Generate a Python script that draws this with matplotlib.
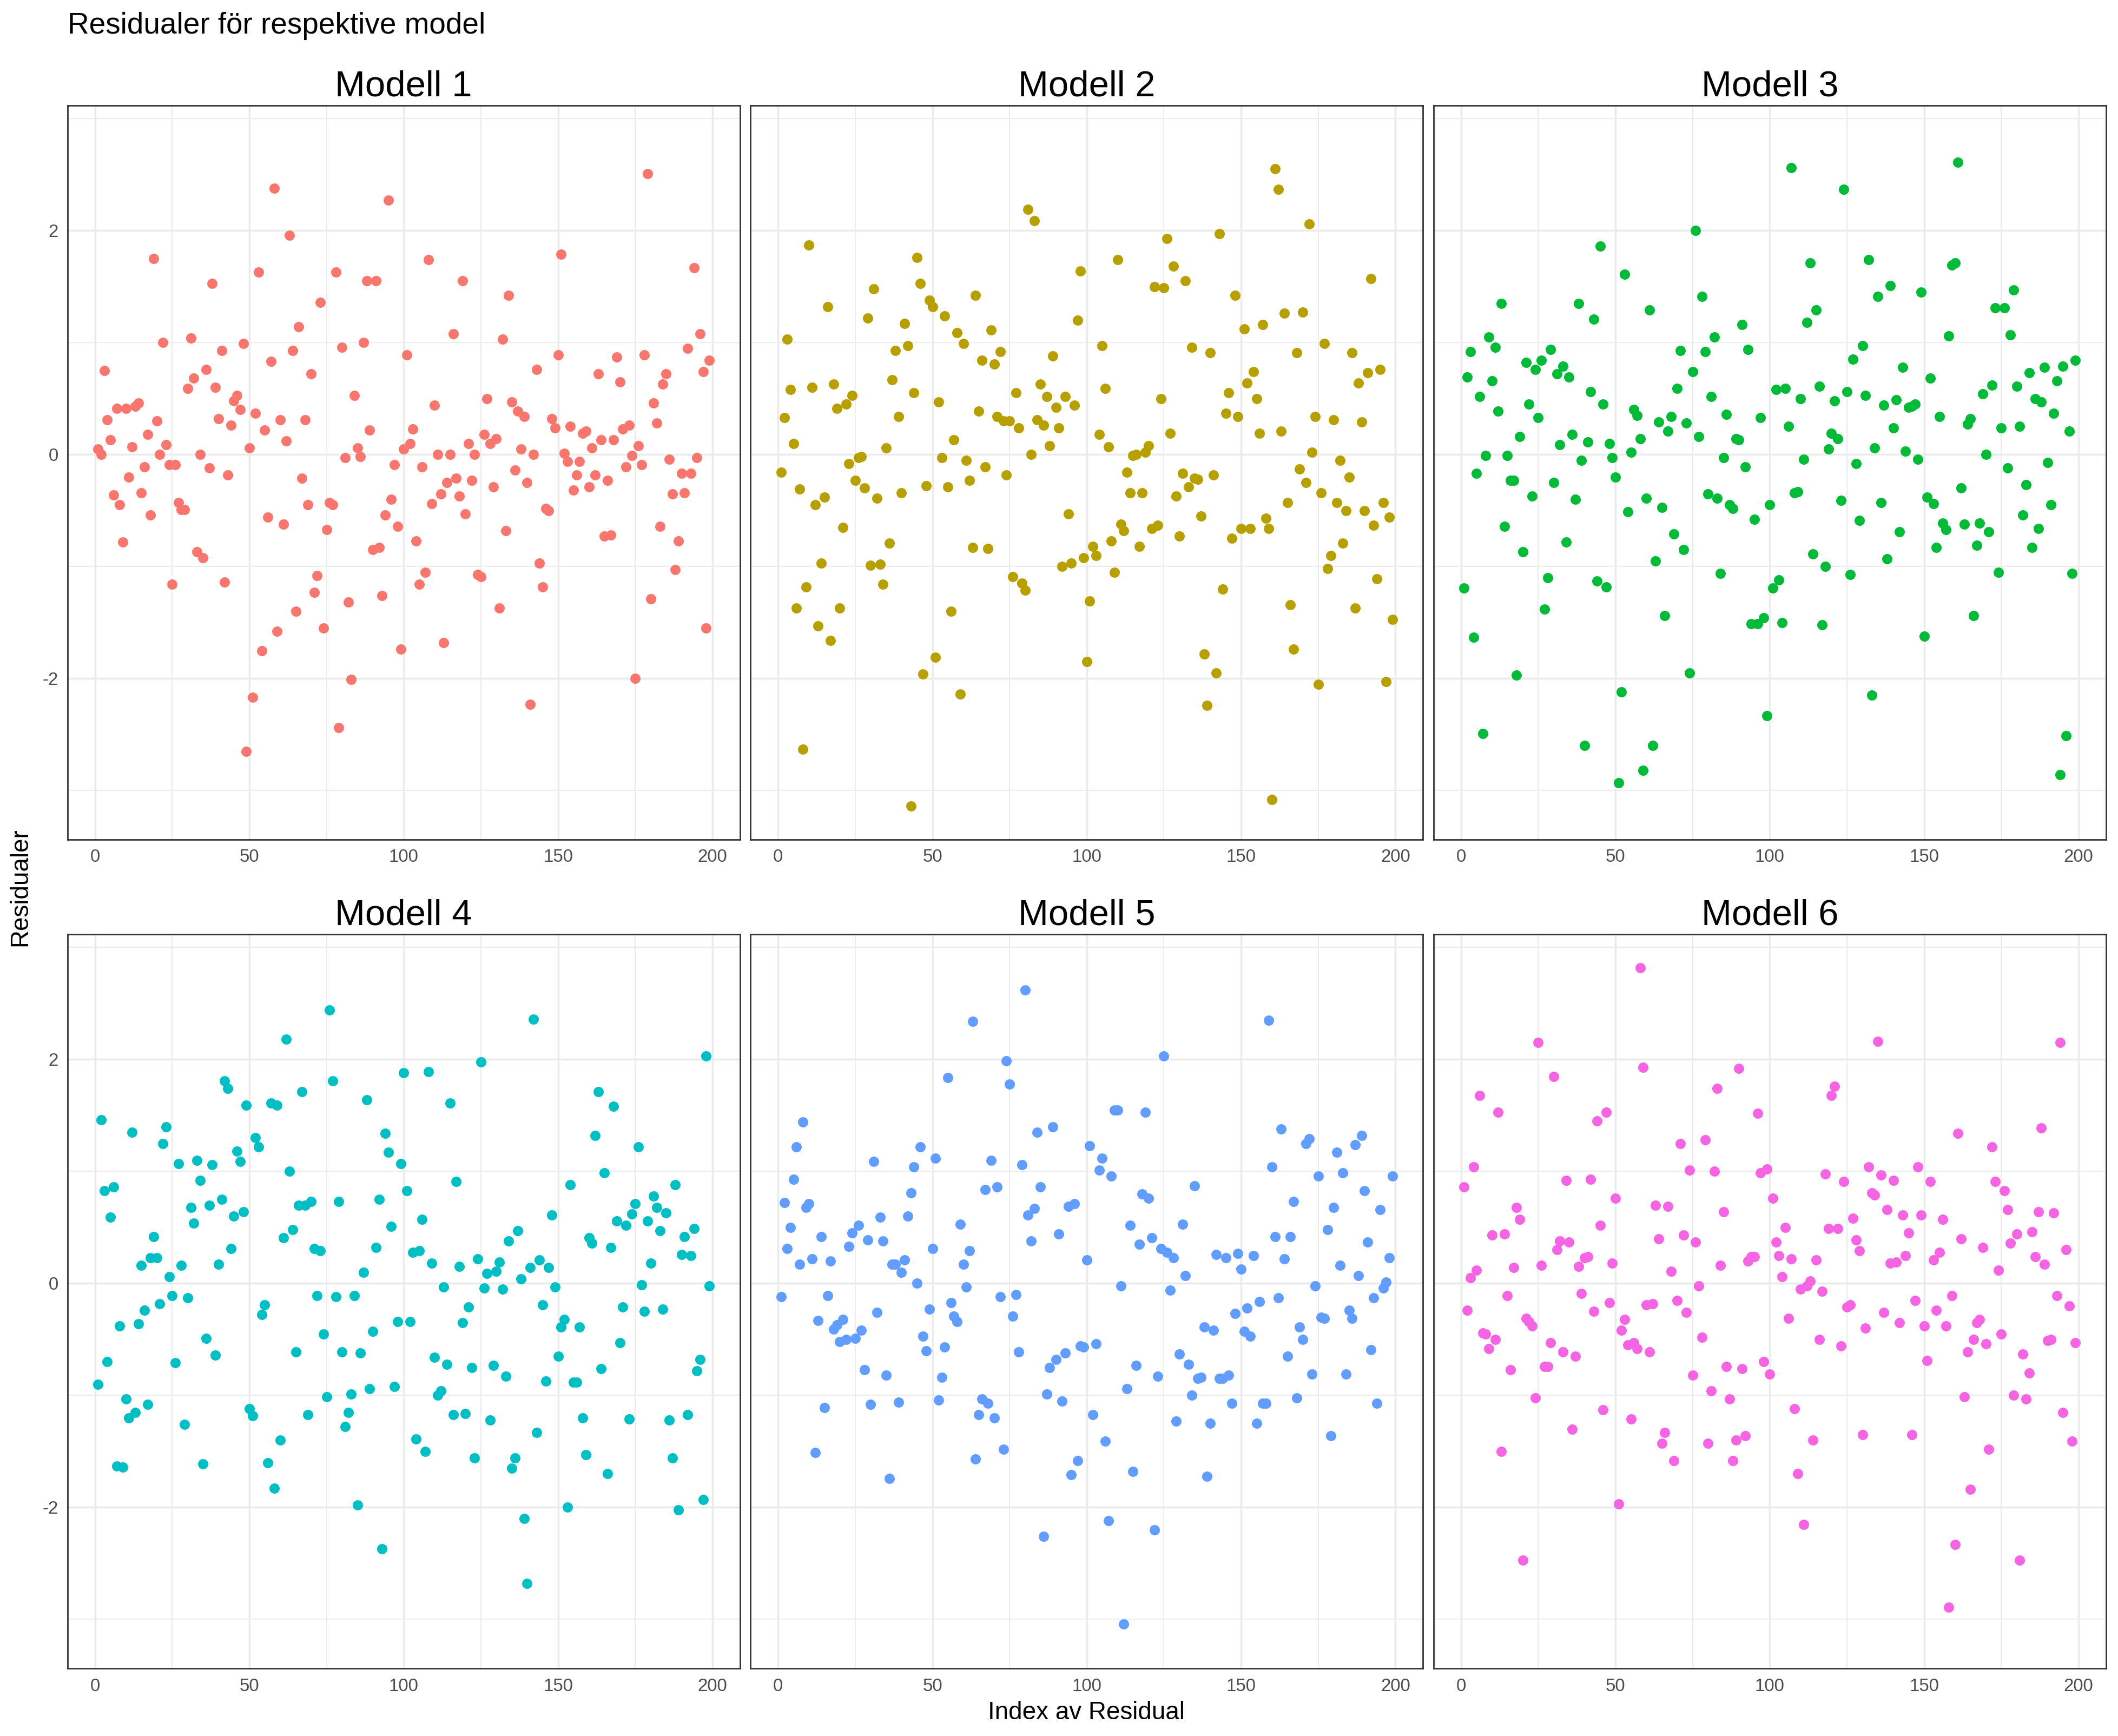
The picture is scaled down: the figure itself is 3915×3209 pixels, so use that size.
import matplotlib
matplotlib.use("Agg")
import matplotlib.pyplot as plt
import numpy as np

plt.rcParams['font.family'] = ['Liberation Sans', 'DejaVu Sans']
plt.rcParams['axes.unicode_minus'] = False

# Residualer per modell (index 1..199, lästa från bilden)
res1 = [0.05, 0.0, 0.75, 0.31, 0.13, -0.36, 0.41, -0.45, -0.78, 0.41,
        -0.2, 0.07, 0.43, 0.46, -0.34, -0.11, 0.18, -0.54, 1.75, 0.30,
        0.0, 1.0, 0.09, -0.09, -1.16, -0.09, -0.43, -0.49, -0.49, 0.59,
        1.04, 0.68, -0.87, 0.0, -0.92, 0.76, -0.12, 1.53, 0.60, 0.32,
        0.93, -1.14, -0.18, 0.26, 0.48, 0.53, 0.40, 0.99, -2.65, 0.06,
        -2.17, 0.37, 1.63, -1.75, 0.22, -0.56, 0.83, 2.38, -1.58, 0.31,
        -0.62, 0.12, 1.96, 0.93, -1.40, 1.14, -0.21, 0.31, -0.45, 0.72,
        -1.23, -1.08, 1.36, -1.55, -0.67, -0.43, -0.45, 1.63, -2.44, 0.96,
        -0.03, -1.32, -2.01, 0.53, 0.06, -0.02, 1.0, 1.55, 0.22, -0.85,
        1.55, -0.83, -1.26, -0.54, 2.27, -0.40, -0.09, -0.64, -1.74, 0.05,
        0.89, 0.10, 0.23, -0.77, -1.16, -0.11, -1.05, 1.74, -0.44, 0.44,
        0.0, -0.35, -1.68, -0.25, 0.0, 1.08, -0.21, -0.37, 1.55, -0.53,
        0.10, -0.23, 0.0, -1.07, -1.09, 0.18, 0.50, 0.10, -0.29, 0.14,
        -1.37, 1.03, -0.68, 1.42, 0.47, -0.14, 0.39, 0.05, 0.34, -0.25,
        -2.23, 0.0, 0.76, -0.97, -1.18, -0.48, -0.50, 0.32, 0.24, 0.89,
        1.79, 0.01, -0.06, 0.25, -0.32, -0.18, -0.06, 0.19, 0.21, -0.29,
        0.06, -0.18, 0.72, 0.13, -0.73, -0.23, -0.72, 0.13, 0.87, 0.65,
        0.23, -0.11, 0.26, -0.01, -2.0, 0.08, -0.09, 0.89, 2.51, -1.29,
        0.46, 0.28, -0.64, 0.63, 0.72, -0.04, -0.35, -1.03, -0.77, -0.17,
        -0.34, 0.95, -0.17, 1.67, -0.03, 1.08, 0.74, -1.55, 0.84]

res2 = [-0.16, 0.33, 1.03, 0.58, 0.10, -1.37, -0.31, -2.63, -1.18, 1.87,
        0.60, -0.45, -1.53, -0.97, -0.38, 1.32, -1.66, 0.63, 0.41, -1.37,
        -0.65, 0.45, -0.08, 0.53, -0.23, -0.03, -0.02, -0.30, 1.22, -0.99,
        1.48, -0.39, -0.98, -1.16, 0.06, -0.79, 0.67, 0.93, 0.34, -0.34,
        1.17, 0.97, -3.14, 0.55, 1.76, 1.53, -1.96, -0.28, 1.38, 1.32,
        -1.81, 0.47, -0.03, 1.24, -0.29, -1.40, 0.13, 1.09, -2.14, 0.99,
        -0.05, -0.23, -0.83, 1.42, 0.39, 0.84, -0.11, -0.84, 1.11, 0.81,
        0.34, 0.92, 0.30, -0.18, 0.30, -1.09, 0.55, 0.24, -1.15, -1.21,
        2.19, 0.0, 2.09, 0.31, 0.63, 0.26, 0.52, 0.08, 0.88, 0.42,
        0.24, -1.0, 0.52, -0.53, -0.97, 0.44, 1.20, 1.64, -0.92, -1.85,
        -1.31, -0.82, -0.90, 0.18, 0.97, 0.59, 0.07, -0.77, -1.05, 1.74,
        -0.62, -0.68, -0.16, -0.34, -0.01, 0.0, -0.82, -0.34, 0.02, 0.08,
        -0.66, 1.50, -0.63, 0.50, 1.49, 1.93, 0.19, 1.68, -0.37, -0.73,
        -0.17, 1.55, -0.29, 0.96, -0.21, -0.22, -0.55, -1.78, -2.24, 0.91,
        -0.18, -1.95, 1.97, -1.20, 0.37, 0.55, -0.75, 1.42, 0.34, -0.66,
        1.12, 0.64, -0.66, 0.74, 0.50, 0.19, 1.16, -0.57, -0.66, -3.08,
        2.55, 2.37, 0.21, 1.26, -0.43, -1.34, -1.74, 0.91, -0.13, 1.27,
        -0.25, 2.06, 0.02, 0.34, -2.05, -0.34, 0.99, -1.02, -0.90, 0.31,
        -0.43, -0.05, -0.79, -0.50, -0.20, 0.91, -1.37, 0.64, 0.29, -0.50,
        0.73, 1.57, -0.63, -1.11, 0.76, -0.43, -2.03, -0.56, -1.47]

res3 = [-1.19, 0.69, 0.92, -1.63, -0.17, 0.52, -2.49, -0.01, 1.05, 0.66,
        0.96, 0.39, 1.35, -0.64, -0.01, -0.23, -0.23, -1.97, 0.16, -0.87,
        0.82, 0.45, -0.37, 0.76, 0.33, 0.84, -1.38, -1.10, 0.94, -0.25,
        0.72, 0.09, 0.79, -0.78, 0.69, 0.18, -0.40, 1.35, -0.05, -2.60,
        0.11, 0.56, 1.21, -1.13, 1.86, 0.45, -1.18, 0.10, -0.03, -0.20,
        -2.93, -2.12, 1.61, -0.51, 0.02, 0.40, 0.35, 0.14, -2.82, -0.39,
        1.29, -2.60, -0.95, 0.29, -0.47, -1.44, 0.21, 0.34, -0.71, 0.59,
        0.93, -0.85, 0.28, -1.95, 0.74, 2.0, 0.16, 1.41, 0.92, -0.35,
        0.52, 1.05, -0.39, -1.06, -0.03, 0.36, -0.45, -0.48, 0.14, 0.13,
        1.16, -0.11, 0.94, -1.51, -0.58, -1.51, 0.33, -1.46, -2.33, -0.45,
        -1.19, 0.58, -1.12, -1.50, 0.59, 0.25, 2.56, -0.34, -0.33, 0.50,
        -0.04, 1.18, 1.71, -0.89, 1.29, 0.61, -1.52, -1.0, 0.05, 0.19,
        0.48, 0.14, -0.41, 2.37, 0.56, -1.07, 0.85, -0.08, -0.59, 0.97,
        0.53, 1.74, -2.15, 0.06, 1.41, -0.43, 0.44, -0.93, 1.51, 0.24,
        0.49, -0.69, 0.78, 0.03, 0.42, 0.43, 0.45, -0.04, 1.45, -1.62,
        -0.38, 0.68, -0.44, -0.83, 0.34, -0.61, -0.67, 1.06, 1.69, 1.71,
        2.61, -0.30, -0.62, 0.27, 0.32, -1.44, -0.81, -0.61, 0.54, 0.0,
        -0.69, 0.62, 1.31, -1.05, 0.24, 1.31, -0.12, 1.07, 1.47, 0.61,
        0.25, -0.54, -0.27, 0.73, -0.83, 0.50, -0.66, 0.47, 0.78, -0.07,
        -0.45, 0.37, 0.66, -2.86, 0.79, -2.51, 0.21, -1.06, 0.84]

res4 = [-0.90, 1.46, 0.83, -0.70, 0.59, 0.86, -1.63, -0.38, -1.64, -1.03,
        -1.20, 1.35, -1.15, -0.36, 0.16, -0.24, -1.08, 0.23, 0.42, 0.23,
        -0.18, 1.25, 1.40, 0.06, -0.11, -0.71, 1.07, 0.16, -1.26, -0.13,
        0.68, 0.54, 1.10, 0.92, -1.61, -0.49, 0.70, 1.06, -0.64, 0.17,
        0.75, 1.81, 1.74, 0.31, 0.60, 1.18, 1.09, 0.64, 1.59, -1.12,
        -1.18, 1.30, 1.22, -0.28, -0.19, -1.60, 1.61, -1.83, 1.59, -1.40,
        0.41, 2.18, 1.0, 0.48, -0.61, 0.70, 1.71, 0.70, -1.17, 0.73,
        0.31, -0.11, 0.29, -0.45, -1.01, 2.44, 1.81, -0.12, 0.73, -0.61,
        -1.28, -1.15, -0.99, -0.11, -1.98, -0.62, 0.10, 1.64, -0.94, -0.43,
        0.32, 0.75, -2.37, 1.34, 1.17, 0.51, -0.92, -0.34, 1.07, 1.88,
        0.83, -0.34, 0.28, -1.39, 0.29, 0.57, -1.50, 1.89, 0.18, -0.66,
        -1.0, -0.96, -0.03, -0.72, 1.61, -1.17, 0.91, 0.15, -0.35, -1.16,
        -0.21, -0.75, -1.56, 0.22, 1.98, -0.04, 0.09, -1.22, -0.73, 0.11,
        0.19, -0.05, -0.83, 0.38, -1.65, -1.56, 0.47, 0.04, -2.10, -2.68,
        0.14, 2.36, -1.33, 0.21, -0.19, -0.87, 0.14, 0.61, -0.03, -0.65,
        -0.39, -0.32, -2.0, 0.88, -0.88, -0.88, -0.39, -1.20, -1.53, 0.41,
        0.36, 1.32, 1.71, -0.76, 0.99, -1.70, 0.32, 1.58, 0.56, -0.53,
        -0.21, 0.52, -1.21, 0.62, 0.71, 1.22, -0.01, -0.25, 0.56, 0.18,
        0.78, 0.68, 0.47, -0.23, 0.63, -1.22, -1.56, 0.88, -2.02, 0.26,
        0.42, -1.17, 0.25, 0.49, -0.78, -0.68, -1.93, 2.03, -0.02]

res5 = [-0.12, 0.72, 0.31, 0.50, 0.93, 1.22, 0.17, 1.44, 0.68, 0.71,
        0.22, -1.51, -0.33, 0.42, -1.11, -0.11, 0.20, -0.41, -0.37, -0.52,
        -0.32, -0.50, 0.33, 0.45, -0.49, 0.52, -0.42, -0.77, 0.39, -1.08,
        1.09, -0.26, 0.59, 0.38, -0.82, -1.74, 0.17, 0.17, -1.06, 0.10,
        0.21, 0.60, 0.81, 1.04, 0.0, 1.22, -0.47, -0.60, -0.23, 0.31,
        1.12, -1.04, -0.84, -0.57, 1.84, -0.17, -0.29, -0.34, 0.53, 0.17,
        -0.03, 0.29, 2.34, -1.57, -1.17, -1.03, 0.84, -1.07, 1.10, -1.20,
        0.86, -0.12, -1.48, 1.99, 1.78, -0.29, -0.10, -0.61, 1.06, 2.62,
        0.61, 0.38, 0.67, 1.35, 0.86, -2.26, -0.99, -0.75, 1.40, -0.68,
        0.44, -1.05, -0.62, 0.69, -1.71, 0.71, -1.58, -0.56, -0.57, 0.21,
        1.23, -1.17, -0.54, 1.01, 1.12, -1.41, -2.12, 0.96, 1.55, 1.55,
        -0.02, -3.04, -0.94, 0.52, -1.68, -0.73, 0.35, 0.80, 1.53, 0.76,
        0.41, -2.20, -0.83, 0.31, 2.03, 0.28, -0.06, 0.23, -1.23, -0.63,
        0.53, 0.07, -0.72, -1.0, 0.87, -0.85, -0.84, -0.39, -1.72, -1.25,
        -0.42, 0.26, -0.85, -0.85, 0.23, -0.82, -1.07, -0.27, 0.27, 0.13,
        -0.43, -0.22, -0.47, 0.25, -1.25, -0.16, -1.07, -1.07, 2.35, 1.04,
        0.42, -0.13, 1.38, 0.22, -0.65, 0.42, 0.73, -1.02, -0.39, -0.50,
        1.25, 1.29, -0.81, -0.02, 0.96, -0.30, -0.31, 0.48, -1.36, 0.68,
        1.17, 0.16, 0.99, -0.81, -0.24, -0.31, 1.24, 0.07, 1.32, 0.83,
        0.37, -0.59, -0.13, -1.07, 0.66, -0.04, 0.01, 0.23, 0.96]

res6 = [0.86, -0.24, 0.05, 1.04, 0.12, 1.68, -0.44, -0.45, -0.58, 0.43,
        -0.50, 1.53, -1.50, 0.44, -0.11, -0.77, 0.14, 0.68, 0.57, -2.47,
        -0.31, -0.34, -0.38, -1.02, 2.15, 0.16, -0.74, -0.74, -0.53, 1.85,
        0.30, 0.38, -0.61, 0.92, 0.37, -1.30, -0.65, 0.15, -0.09, 0.23,
        0.24, 0.93, -0.25, 1.45, 0.52, -1.13, 1.53, -0.17, 0.18, 0.76,
        -1.97, -0.42, -0.32, -0.55, -1.21, -0.53, -0.58, 2.82, 1.93, -0.19,
        -0.61, -0.18, 0.70, 0.40, -1.43, -1.33, 0.69, 0.11, -1.58, -0.15,
        1.25, 0.43, -0.26, 1.01, -0.82, 0.37, -0.02, -0.48, 1.28, -1.43,
        -0.96, 1.0, 1.74, 0.16, 0.64, -0.74, -1.03, -1.58, -1.40, 1.92,
        -0.76, -1.36, 0.20, 0.24, 0.24, 1.52, 0.99, -0.70, 1.02, -0.81,
        0.76, 0.37, 0.25, 0.06, 0.50, -0.31, 0.22, -1.12, -1.70, -0.05,
        -2.15, -0.02, 0.02, -1.40, 0.21, -0.50, -0.07, 0.98, 0.49, 1.68,
        1.76, 0.49, -0.56, 0.91, -0.21, -0.19, 0.58, 0.39, 0.29, -1.35,
        -0.40, 1.04, 0.81, 0.79, 2.16, 0.97, -0.26, 0.66, 0.18, 0.92,
        0.19, -0.35, 0.61, 0.25, 0.45, -1.35, -0.15, 1.04, 0.61, -0.38,
        -0.69, 0.91, 0.21, -0.24, 0.28, 0.57, -0.38, -2.89, -0.11, -2.33,
        1.34, 0.40, -1.01, -0.61, -1.84, -0.50, -0.35, -0.32, 0.32, -0.54,
        -1.48, 1.22, 0.91, 0.12, -0.45, 0.83, 0.66, 0.36, -1.0, 0.44,
        -2.47, -0.63, -1.03, -0.80, 0.46, 0.24, 0.64, 1.39, 0.17, -0.51,
        -0.50, 0.63, -0.11, 2.15, -1.15, 0.30, -0.20, -1.41, -0.53]

models = ['Modell 1', 'Modell 2', 'Modell 3', 'Modell 4', 'Modell 5', 'Modell 6']
colors = ['#F8766D', '#B79F00', '#00BA38', '#00BFC4', '#619CFF', '#F564E3']
residuals = [res1, res2, res3, res4, res5, res6]

# ggplot-like expansion (5%) on a shared scale
all_y = np.concatenate([np.array(r) for r in residuals])
ypad = 0.05 * (all_y.max() - all_y.min())
ylim = (all_y.min() - ypad, all_y.max() + ypad)
n = len(res1)
xpad = 0.05 * (n - 1)
xlim = (1 - xpad, n + xpad)

fig, axes = plt.subplots(2, 3, figsize=(15.66, 12.836), dpi=250)
fig.subplots_adjust(left=0.0319, right=0.9943, top=0.9393, bottom=0.0389,
                    wspace=0.016, hspace=0.129)

for i, ax in enumerate(axes.flat):
    r = np.array(residuals[i])
    idx = np.arange(1, len(r) + 1)
    ax.scatter(idx, r, s=30, color=colors[i], linewidths=0, zorder=3)
    ax.set_xlim(xlim)
    ax.set_ylim(ylim)
    ax.set_xticks([0, 50, 100, 150, 200])
    ax.set_xticks([25, 75, 125, 175], minor=True)
    ax.set_yticks([-2, 0, 2])
    ax.set_yticks([-3, -1, 1, 3], minor=True)
    ax.grid(which='major', color='#EBEBEB', linewidth=1.0, zorder=0)
    ax.grid(which='minor', color='#EBEBEB', linewidth=0.5, zorder=0)
    ax.set_axisbelow(True)
    ax.tick_params(which='both', length=0, labelsize=9.5, labelcolor='#4D4D4D', pad=5)
    if i % 3 != 0:
        ax.tick_params(axis='y', labelleft=False)
    for sp in ax.spines.values():
        sp.set_color('#333333')
        sp.set_linewidth(0.8)
    ax.set_title(models[i], fontsize=19.3, pad=5)

fig.text(0.0319, 0.985, 'Residualer för respektive model', fontsize=15.8,
         ha='left', va='center')
fig.text(0.513, 0.0135, 'Index av Residual', fontsize=13.2, ha='center', va='center')
fig.text(0.0095, 0.489, 'Residualer', fontsize=13.2, ha='center', va='center',
         rotation=90)

fig.savefig('out.png', dpi=250)
